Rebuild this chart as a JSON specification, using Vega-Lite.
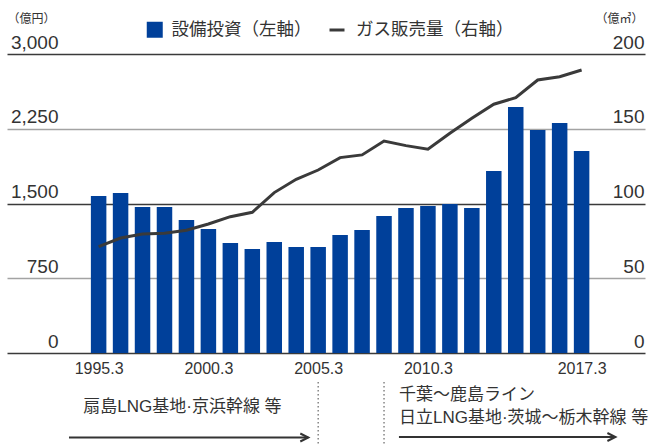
{
  "$schema": "https://vega.github.io/schema/vega-lite/v6.json",
  "width": 638,
  "height": 299,
  "autosize": {"type": "none"},
  "padding": {"left": 7, "top": 54, "right": 13, "bottom": 91},
  "background": "white",
  "config": {
    "view": {"stroke": null},
    "font": "'Liberation Sans', 'Noto Sans CJK JP', sans-serif",
    "text": {"font": "'Liberation Sans', 'Noto Sans CJK JP', sans-serif"}
  },
  "datasets": {
    "main": [
      {"fy": 1995, "capex": 1575, "sales": 71.1},
      {"fy": 1996, "capex": 1605, "sales": 76.9},
      {"fy": 1997, "capex": 1464, "sales": 79.6},
      {"fy": 1998, "capex": 1464, "sales": 80.1},
      {"fy": 1999, "capex": 1334, "sales": 82.1},
      {"fy": 2000, "capex": 1244, "sales": 86.3},
      {"fy": 2001, "capex": 1103, "sales": 91.2},
      {"fy": 2002, "capex": 1043, "sales": 94.1},
      {"fy": 2003, "capex": 1113, "sales": 107.3},
      {"fy": 2004, "capex": 1063, "sales": 116.2},
      {"fy": 2005, "capex": 1063, "sales": 122.4},
      {"fy": 2006, "capex": 1183, "sales": 130.7},
      {"fy": 2007, "capex": 1234, "sales": 132.5},
      {"fy": 2008, "capex": 1374, "sales": 141.8},
      {"fy": 2009, "capex": 1454, "sales": 138.7},
      {"fy": 2010, "capex": 1474, "sales": 136.3},
      {"fy": 2011, "capex": 1494, "sales": 147.0},
      {"fy": 2012, "capex": 1454, "sales": 157.0},
      {"fy": 2013, "capex": 1825, "sales": 166.4},
      {"fy": 2014, "capex": 2467, "sales": 170.8},
      {"fy": 2015, "capex": 2237, "sales": 182.6},
      {"fy": 2016, "capex": 2307, "sales": 184.8},
      {"fy": 2017, "capex": 2026, "sales": 189.3}
    ],
    "notes": [
      {"fy": 1994.3, "v": -542, "label": "扇島LNG基地·京浜幹線 等"},
      {"fy": 2008.68, "v": -421, "label": "千葉～鹿島ライン"},
      {"fy": 2008.68, "v": -652, "label": "日立LNG基地·茨城～栃木幹線 等"}
    ],
    "arrows": [
      {"fy": 1993.65, "fy2": 2004.55, "v": -848},
      {"fy": 2008.68, "fy2": 2018.54, "v": -843}
    ],
    "dividers": [
      {"fy": 2005, "v": -291, "v2": -913},
      {"fy": 2008, "v": -291, "v2": -913}
    ]
  },
  "encoding": {
    "x": {
      "field": "fy",
      "type": "quantitative",
      "scale": {"domain": [1991.054, 2019.66], "nice": false, "zero": false},
      "axis": {
        "values": [1995, 2000, 2005, 2010, 2017],
        "labelExpr": "datum.value + '.3'",
        "title": null,
        "grid": false,
        "domain": false,
        "ticks": false,
        "labelPadding": 7,
        "labelFontSize": 16,
        "labelColor": "#333333",
        "labelFlush": false,
        "labelOverlap": false
      }
    }
  },
  "layer": [
    {
      "data": {"name": "dividers"},
      "mark": {"type": "rule", "strokeDash": [1.5, 2.5], "strokeWidth": 1.2, "color": "#666666"},
      "encoding": {
        "y": {
          "field": "v",
          "type": "quantitative",
          "scale": {"domain": [0, 3000], "nice": false},
          "axis": {
            "orient": "left",
            "values": [0, 1500, 3000],
            "grid": true,
            "gridColor": "#3a3a3a",
            "gridWidth": 1.5,
            "labels": false,
            "ticks": false,
            "domain": false,
            "title": null
          }
        },
        "y2": {"field": "v2"}
      }
    },
    {
      "data": {"name": "arrows"},
      "mark": {"type": "rule", "strokeWidth": 2, "color": "#333333"},
      "encoding": {
        "y": {
          "field": "v",
          "type": "quantitative",
          "scale": {"domain": [0, 3000], "nice": false},
          "axis": {
            "orient": "left",
            "values": [750, 2250],
            "grid": true,
            "gridColor": "#a3a3a3",
            "gridWidth": 1.5,
            "labels": false,
            "ticks": false,
            "domain": false,
            "title": null
          }
        },
        "x2": {"field": "fy2"}
      }
    },
    {
      "data": {"name": "main"},
      "mark": {"type": "bar", "width": 15.5},
      "encoding": {
        "y": {
          "field": "capex",
          "type": "quantitative",
          "scale": {"domain": [0, 3000], "nice": false},
          "axis": {
            "orient": "left",
            "values": [0, 750, 1500, 2250, 3000],
            "format": ",d",
            "grid": false,
            "domain": false,
            "ticks": false,
            "labelAlign": "right",
            "labelBaseline": "alphabetic",
            "labelPadding": -51,
            "labelOffset": -6,
            "labelFontSize": 19,
            "labelColor": "#333333",
            "labelFlush": false,
            "labelOverlap": false,
            "title": "（億円）",
            "titleAngle": 0,
            "titleAlign": "left",
            "titleBaseline": "middle",
            "titleX": 0,
            "titleY": -36,
            "titleFontSize": 12,
            "titleFontWeight": "normal",
            "titleColor": "#333333"
          }
        },
        "fill": {
          "datum": "設備投資（左軸）",
          "type": "nominal",
          "scale": {"range": ["#00409a"]},
          "legend": {
            "orient": "none",
            "legendX": 139,
            "legendY": -33,
            "title": null,
            "padding": 0,
            "symbolType": "square",
            "symbolSize": 256,
            "symbolStrokeWidth": 0,
            "labelOffset": 8,
            "labelFontSize": 17.5,
            "labelColor": "#333333"
          }
        }
      }
    },
    {
      "data": {"name": "main"},
      "mark": {"type": "line", "strokeWidth": 3},
      "encoding": {
        "y": {
          "field": "sales",
          "type": "quantitative",
          "scale": {"domain": [0, 200], "nice": false},
          "axis": {
            "orient": "right",
            "values": [0, 50, 100, 150, 200],
            "format": "d",
            "grid": false,
            "domain": false,
            "ticks": false,
            "labelAlign": "right",
            "labelBaseline": "alphabetic",
            "labelPadding": -1,
            "labelOffset": -6,
            "labelFontSize": 19,
            "labelColor": "#333333",
            "labelFlush": false,
            "labelOverlap": false,
            "title": "（億㎥）",
            "titleAngle": 0,
            "titleAlign": "right",
            "titleBaseline": "middle",
            "titleX": -2,
            "titleY": -36,
            "titleFontSize": 12,
            "titleFontWeight": "normal",
            "titleColor": "#333333"
          }
        },
        "stroke": {
          "datum": "ガス販売量（右軸）",
          "type": "nominal",
          "scale": {"range": ["#3a3a3a"]},
          "legend": {
            "orient": "none",
            "legendX": 321,
            "legendY": -33,
            "title": null,
            "padding": 0,
            "symbolType": "stroke",
            "symbolSize": 225,
            "symbolStrokeWidth": 3,
            "labelOffset": 10,
            "labelFontSize": 17.5,
            "labelColor": "#333333"
          }
        }
      }
    },
    {
      "data": {"name": "arrows"},
      "mark": {"type": "point", "shape": "M-2,-1L0,0L-2,1", "size": 64, "filled": false, "strokeWidth": 2, "color": "#333333", "opacity": 1},
      "encoding": {
        "x": {"field": "fy2", "type": "quantitative"},
        "y": {"field": "v", "type": "quantitative", "scale": {"domain": [0, 3000], "nice": false}, "axis": null}
      }
    },
    {
      "data": {"name": "notes"},
      "mark": {"type": "text", "align": "left", "baseline": "middle", "fontSize": 17, "color": "#333333"},
      "encoding": {
        "y": {"field": "v", "type": "quantitative", "scale": {"domain": [0, 3000], "nice": false}, "axis": null},
        "text": {"field": "label"}
      }
    }
  ],
  "resolve": {"scale": {"y": "independent"}}
}
